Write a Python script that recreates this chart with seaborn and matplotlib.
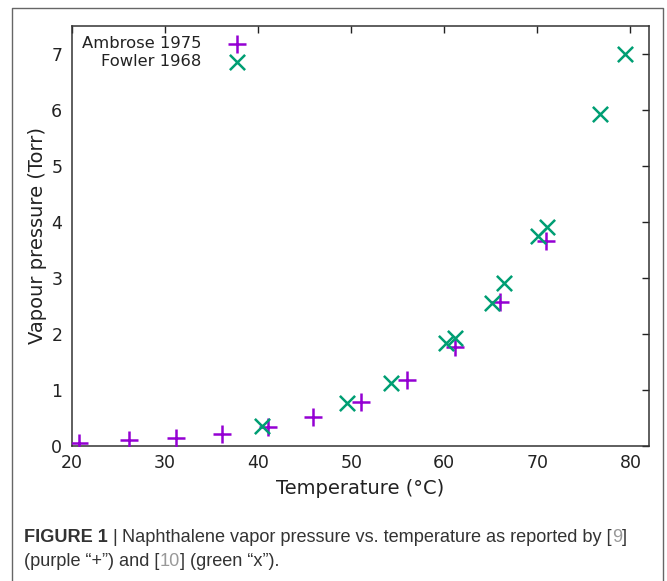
import matplotlib
matplotlib.use('Agg')
import matplotlib.pyplot as plt
import seaborn as sns
import pandas as pd
from matplotlib.lines import Line2D

# Ambrose 1975 (purple +)
ambrose_t = [20.75, 26.1, 31.2, 36.1, 41.05, 45.9, 51.0, 56.0, 61.2, 66.0, 70.9]
ambrose_p = [0.05, 0.10, 0.14, 0.21, 0.34, 0.52, 0.79, 1.18, 1.77, 2.57, 3.66]

# Fowler 1968 (green x)
fowler_t = [40.4, 49.5, 54.3, 60.2, 61.2, 65.1, 66.4, 70.05, 71.0, 76.7, 79.4]
fowler_p = [0.36, 0.76, 1.12, 1.84, 1.93, 2.55, 2.91, 3.75, 3.91, 5.93, 7.0]

x_ticks = [20, 30, 40, 50, 60, 70, 80]
y_ticks = [0, 1, 2, 3, 4, 5, 6, 7]

purple = '#9400D3'
green = '#009E73'

sns.set_style('white')
plt.rcParams['font.family'] = ['DejaVu Sans']

df_a = pd.DataFrame({'t': ambrose_t, 'p': ambrose_p})
df_f = pd.DataFrame({'t': fowler_t, 'p': fowler_p})

fig = plt.figure(figsize=(6.67, 5.81), dpi=100)
ax = fig.add_axes([72 / 667, 1 - 446 / 581, (649 - 72) / 667, (446 - 26) / 581])

sns.scatterplot(data=df_a, x='t', y='p', marker='+', s=160, linewidth=1.8,
                color=purple, label='Ambrose 1975', ax=ax, zorder=3)
sns.scatterplot(data=df_f, x='t', y='p', marker='x', s=120, linewidth=1.8,
                color=green, label='Fowler 1968', ax=ax, zorder=3)

ax.set_xlim(20, 82)
ax.set_ylim(0, 7.5)
ax.set_xticks(x_ticks)
ax.set_yticks(y_ticks)
ax.tick_params(direction='in', length=5, width=1, top=True, right=True,
               labelsize=12.5, colors='#222222')
ax.tick_params(axis='x', pad=6)
ax.tick_params(axis='y', pad=7)
for s in ax.spines.values():
    s.set_color('#333333')
    s.set_linewidth(1.1)
    s.set_visible(True)

ax.set_xlabel('Temperature (°C)', fontsize=14, color='#222222', labelpad=5)
ax.set_ylabel('Vapour pressure (Torr)', fontsize=14, color='#222222', labelpad=3)

leg = ax.legend(loc='upper left', markerfirst=False, frameon=False,
                fontsize=11.8, handletextpad=1.6, labelspacing=0.2,
                borderaxespad=0.2, handlelength=1.2)
for t in leg.get_texts():
    t.set_color('#222222')

# outer frame of the figure panel
frame = Line2D([12 / 667, 12 / 667, 663 / 667, 663 / 667],
               [-0.05, 1 - 8 / 581, 1 - 8 / 581, -0.05],
               transform=fig.transFigure, color='#666666', lw=1.0)
fig.add_artist(frame)

# caption, built from pieces with different weights / colours
cap_font = ['Liberation Sans Narrow', 'Liberation Sans', 'DejaVu Sans']
cap_size = 13.1
dark = '#333333'
grey = '#999999'
lines = [
    (1 - 537 / 581, [('FIGURE 1 ', 'bold', dark), ('| ', 'normal', dark),
                     ('Naphthalene vapor pressure vs. temperature as reported by [', 'normal', dark),
                     ('9', 'normal', grey), (']', 'normal', dark)]),
    (1 - 562 / 581, [('(purple \u201c+\u201d) and [', 'normal', dark), ('10', 'normal', grey),
                     ('] (green \u201cx\u201d).', 'normal', dark)]),
]
fig.canvas.draw()
renderer = fig.canvas.get_renderer()
for y, pieces in lines:
    x = 24 / 667
    for txt, weight, col in pieces:
        t = fig.text(x, y, txt, fontsize=cap_size, fontweight=weight, color=col,
                     family=cap_font, va='center', ha='left')
        bb = t.get_window_extent(renderer=renderer)
        x += bb.width / fig.bbox.width

fig.savefig('out.png', dpi=100)
